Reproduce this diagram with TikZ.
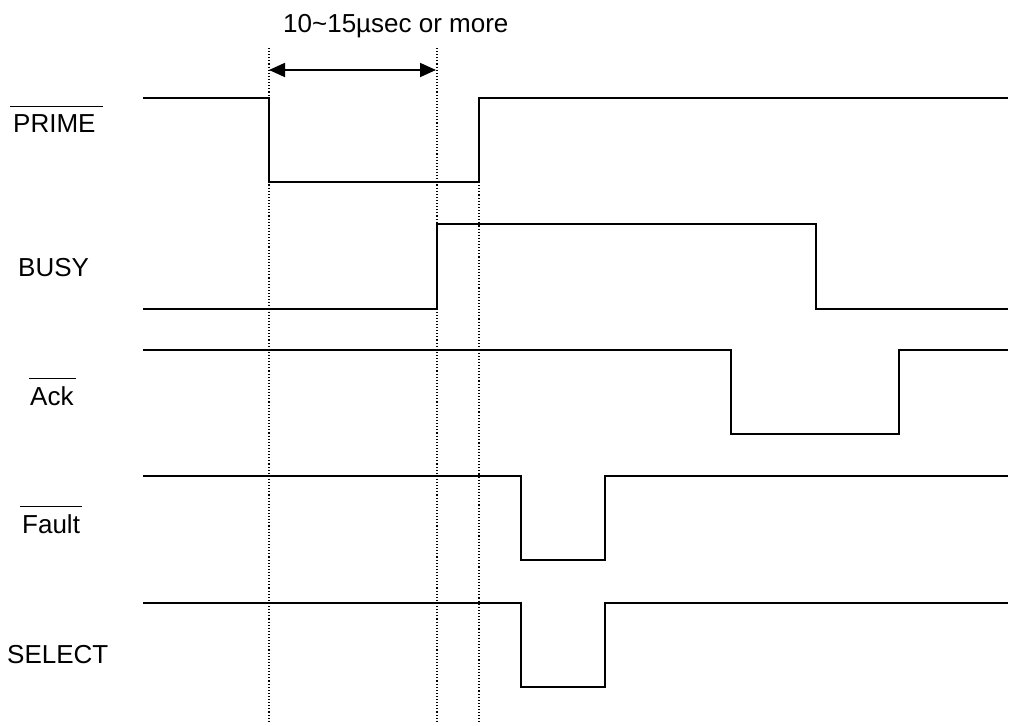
\documentclass[tikz,border=0pt]{standalone}
\usepackage{fontspec}
\setmainfont{Liberation Sans}
\usepackage{tikz}
\usetikzlibrary{arrows.meta}
\newcommand{\sigbar}[1]{\vbox{\hrule height 1.3pt\kern 7pt\hbox{\kern3pt #1\kern7pt}}}

\begin{document}
\begin{tikzpicture}[x=1pt, y=-1pt,
    signal/.style={black, line width=1.8pt, line join=miter},
    guide/.style={black, line width=1.1pt, dash pattern=on 1.1pt off 2pt},
    siglabel/.style={anchor=base west, inner sep=0pt, font=\fontsize{26}{30}\selectfont},
    span/.style={black, line width=1.8pt, {Triangle[length=16pt,width=14pt]}-{Triangle[length=16pt,width=14pt]}}]
    \useasboundingbox (0,0) rectangle (1019,725);
    % guide lines
    \coordinate (g1top) at (269,48);  \coordinate (g1bot) at (269,722);
    \coordinate (g2top) at (437,48);  \coordinate (g2bot) at (437,722);
    \coordinate (g3top) at (479,182); \coordinate (g3bot) at (479,722);
    \draw[guide] (g1top) -- (g1bot);
    \draw[guide] (g2top) -- (g2bot);
    \draw[guide] (g3top) -- (g3bot);
    % minimum pulse width
    \coordinate (w1) at (269,70);
    \coordinate (w2) at (436,70);
    \draw[span] (w1) -- (w2);
    \node[siglabel] (width) at (283,33) {10\char"7E 15µsec or more};
    % signal names
    \node[siglabel] (prime) at (10,132) {\sigbar{PRIME}};
    \node[siglabel] (busy) at (18,276) {BUSY};
    \node[siglabel] (ack) at (29,405) {\sigbar{\kern-2pt Ack\kern-5pt}};
    \node[siglabel] (fault) at (20,533) {\sigbar{\kern-1pt Fault\kern-5pt}};
    \node[siglabel] (select) at (7,663) {SELECT};
    % waveforms
    \draw[signal] (143,98) -- (269,98) -- (269,182) -- (479,182) -- (479,98) -- (1008,98);
    \draw[signal] (143,309) -- (437,309) -- (437,224) -- (816,224) -- (816,309) -- (1008,309);
    \draw[signal] (143,350) -- (731,350) -- (731,434) -- (899,434) -- (899,350) -- (1008,350);
    \draw[signal] (143,476) -- (521,476) -- (521,560) -- (605,560) -- (605,476) -- (1008,476);
    \draw[signal] (143,603) -- (521,603) -- (521,687) -- (605,687) -- (605,603) -- (1008,603);
\end{tikzpicture}
\end{document}
